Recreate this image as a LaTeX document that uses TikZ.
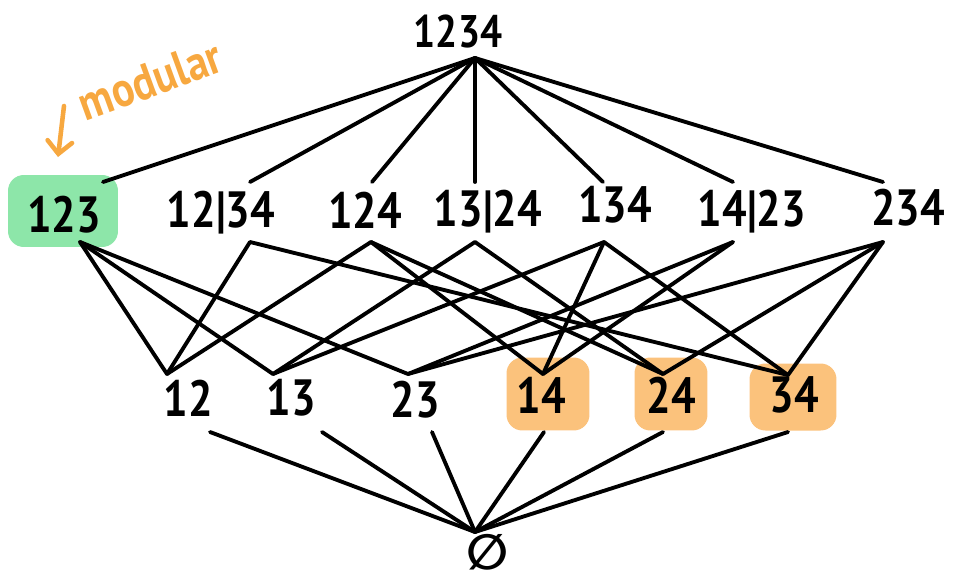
\documentclass[tikz,border=0pt]{standalone}
\usepackage{fontspec}
\setmainfont[FakeStretch=0.85]{PT Sans}
\newfontfamily\symfam{DejaVu Sans}
\usetikzlibrary{arrows.meta}
\definecolor{hlgreen}{HTML}{8DE6A9}
\definecolor{hlorange}{HTML}{FBC27C}
\definecolor{notecol}{HTML}{F7A840}
\begin{document}
\begin{tikzpicture}[x=0.02cm,y=-0.02cm,
  lbl/.style={font=\fontsize{29}{30}\selectfont\bfseries, inner sep=0pt},
  hlbox/.style={inner sep=0pt, rounded corners=9pt, draw=none},
  edge/.style={line width=2.2pt, line cap=round, line join=round},
  note/.style={text=notecol, font=\fontsize{28}{30}\selectfont\bfseries}]
\useasboundingbox (0,0) rectangle (965,579);
% highlight boxes
\node[hlbox, fill=hlgreen, minimum width=2.2cm, minimum height=1.44cm] (h123) at (63,211) {};
\node[hlbox, fill=hlorange, minimum width=1.66cm, minimum height=1.46cm] (h14) at (548,394) {};
\node[hlbox, fill=hlorange, minimum width=1.46cm, minimum height=1.46cm] (h24) at (671,394) {};
\node[hlbox, fill=hlorange, minimum width=1.74cm, minimum height=1.34cm] (h34) at (793,397) {};
% labels
\node[lbl, font=\fontsize{26}{28}\selectfont\bfseries] (n1234) at (458,32) {1234};
\node[lbl] (n123) at (64,215) {123};
\node[lbl] (n12s34) at (221,213) {12|34};
\node[lbl] (n124) at (365,210) {124};
\node[lbl] (n13s24) at (488,212) {13|24};
\node[lbl] (n134) at (615,205) {134};
\node[lbl] (n14s23) at (752,212) {14|23};
\node[lbl] (n234) at (908,208) {234};
\node[lbl] (n12) at (188,398) {12};
\node[lbl] (n13) at (291,398) {13};
\node[lbl] (n23) at (415,400) {23};
\node[lbl] (n14) at (541,395) {14};
\node[lbl] (n24) at (671,395) {24};
\node[lbl] (n34) at (794,395) {34};
\node[lbl, font=\symfam\bfseries\fontsize{28}{30}\selectfont] (nbot) at (488,552) {∅};
\node[note, rotate=20, inner sep=0pt] (nmod) at (150,80) {modular};
% anchor points
\coordinate (t) at (475,58);
\coordinate (u123) at (103,182);
\coordinate (u12s34) at (250,182);
\coordinate (u124) at (372,182);
\coordinate (u13s24) at (475,182);
\coordinate (u134) at (603,182);
\coordinate (u14s23) at (733,182);
\coordinate (u234) at (883,182);
\coordinate (d123) at (80,242);
\coordinate (d12s34) at (250,242);
\coordinate (d124) at (371,242);
\coordinate (d13s24) at (475,242);
\coordinate (d134) at (604,242);
\coordinate (d14s23) at (733,242);
\coordinate (d234) at (883,242);
\coordinate (u12) at (167,374);
\coordinate (u13) at (273,374);
\coordinate (u23) at (408,374);
\coordinate (u14) at (543,374);
\coordinate (u24) at (663,374);
\coordinate (u34) at (788,375);
\coordinate (d12) at (210,432);
\coordinate (d13) at (322,432);
\coordinate (d23) at (432,432);
\coordinate (d14) at (544,432);
\coordinate (d24) at (663,432);
\coordinate (d34) at (788,432);
\coordinate (b) at (475,532);
\coordinate (arrs) at (64,106);
\coordinate (arre) at (58,157);
% top edges
\foreach \n in {123,12s34,124,13s24,134,14s23,234}
  \draw[edge] (t) -- (u\n);
% middle edges
\draw[edge] (d123) -- (u12);
\draw[edge] (d123) -- (u13);
\draw[edge] (d123) -- (u23);
\draw[edge] (d12s34) -- (u12);
\draw[edge] (d12s34) -- (u34);
\draw[edge] (d124) -- (u12);
\draw[edge] (d124) -- (u14);
\draw[edge] (d124) -- (u24);
\draw[edge] (d13s24) -- (u13);
\draw[edge] (d13s24) -- (u24);
\draw[edge] (d134) -- (u13);
\draw[edge] (d134) -- (u14);
\draw[edge] (d134) -- (u34);
\draw[edge] (d14s23) -- (u14);
\draw[edge] (d14s23) -- (u23);
\draw[edge] (d234) -- (u23);
\draw[edge] (d234) -- (u24);
\draw[edge] (d234) -- (u34);
% bottom edges
\foreach \n in {12,13,23,14,24,34}
  \draw[edge] (d\n) -- (b);
% modular arrow
\draw[line width=2.6pt, line cap=round, notecol, -{Straight Barb[length=7pt,width=14pt,line cap=round]}] (arrs) -- (arre);
\end{tikzpicture}
\end{document}
